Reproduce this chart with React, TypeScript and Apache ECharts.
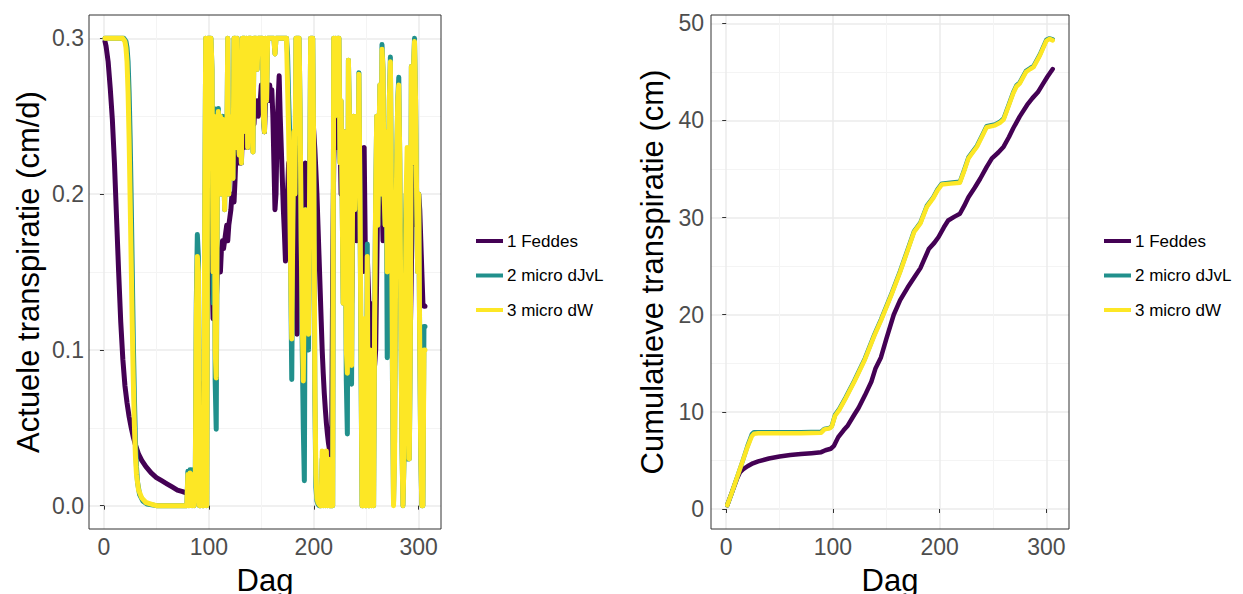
import React, { useEffect, useRef } from "react";
import * as echarts from "echarts";

const FONT = "'Liberation Sans', Arial, Helvetica, sans-serif";

const seriesNames = ["1 Feddes", "2 micro dJvL", "3 micro dW"];
const seriesColors = ["#440154", "#21908C", "#FDE725"];

const xTicks = [0, 100, 200, 300];
const xMinorTicks = [50, 150, 250];
const yTicksLeft = [0, 0.1, 0.2, 0.3];
const yMinorLeft = [0.05, 0.15, 0.25];
const yTicksRight = [0, 10, 20, 30, 40, 50];
const yMinorRight = [5, 15, 25, 35, 45];

// ---- Left panel: actual transpiration (cm/d) ----
// early phase (day, value) pairs
const feddesEarly: [number, number][] = [
  [1, 0.298], [2, 0.295], [4, 0.285], [6, 0.268], [8, 0.248], [10, 0.22], [12, 0.185],
  [14, 0.15], [16, 0.118], [18, 0.094], [20, 0.077], [22, 0.066], [24, 0.057], [26, 0.05],
  [28, 0.044], [30, 0.039], [33, 0.033], [36, 0.029], [40, 0.025], [45, 0.021], [50, 0.018],
  [55, 0.016], [60, 0.014], [65, 0.012], [70, 0.01], [75, 0.009], [79, 0.008],
];
const djvlEarly: [number, number][] = [
  [1, 0.3], [5, 0.3], [10, 0.3], [15, 0.3], [19, 0.3], [21, 0.298], [22, 0.294], [23, 0.285],
  [24, 0.265], [25, 0.235], [26, 0.195], [27, 0.15], [28, 0.105], [29, 0.07], [30, 0.042],
  [31, 0.025], [32, 0.015], [34, 0.007], [37, 0.003], [41, 0.001], [50, 0], [60, 0], [70, 0], [79, 0],
];
const dwEarly: [number, number][] = [
  [1, 0.3], [5, 0.3], [10, 0.3], [15, 0.3], [18, 0.3], [20, 0.298], [21, 0.294], [22, 0.285],
  [23, 0.265], [24, 0.235], [25, 0.195], [26, 0.155], [27, 0.115], [28, 0.08], [29, 0.052],
  [30, 0.032], [31, 0.02], [33, 0.01], [36, 0.005], [40, 0.002], [45, 0.001], [50, 0], [60, 0], [70, 0], [79, 0],
];

// daily values from day 80 to day 306
const dailyStartDay = 80;
const feddesDaily = [
  0.008, 0.008, 0.009, 0.008, 0.008, 0.009, 0.008, 0.008, 0.01, 0.05,
  0.03, 0.01, 0.006, 0.005, 0.04, 0.079, 0.01, 0.12, 0.2, 0.21,
  0.21, 0.2, 0.19, 0.15, 0.12, 0.13, 0.14, 0.13, 0.15, 0.16,
  0.16, 0.15, 0.165, 0.17, 0.165, 0.17, 0.175, 0.18, 0.17, 0.18,
  0.185, 0.19, 0.2, 0.2, 0.195, 0.21, 0.23, 0.22, 0.225, 0.22,
  0.23, 0.22, 0.24, 0.235, 0.23, 0.24, 0.24, 0.23, 0.25, 0.245,
  0.25, 0.24, 0.25, 0.245, 0.26, 0.25, 0.26, 0.25, 0.26, 0.26,
  0.27, 0.26, 0.25, 0.24, 0.26, 0.27, 0.26, 0.265, 0.27, 0.26,
  0.267, 0.25, 0.22, 0.19, 0.2, 0.24, 0.26, 0.276, 0.25, 0.23,
  0.21, 0.19, 0.175, 0.157, 0.17, 0.2, 0.22, 0.18, 0.16, 0.14,
  0.2, 0.23, 0.2, 0.14, 0.11, 0.2, 0.23, 0.22, 0.19, 0.16,
  0.14, 0.19, 0.22, 0.2, 0.17, 0.16, 0.2, 0.24, 0.23, 0.25,
  0.24, 0.229, 0.215, 0.2, 0.18, 0.16, 0.14, 0.12, 0.1, 0.085,
  0.072, 0.062, 0.053, 0.046, 0.04, 0.036, 0.033, 0.03, 0.15, 0.22,
  0.24, 0.25, 0.23, 0.25, 0.254, 0.24, 0.2, 0.22, 0.17, 0.2,
  0.19, 0.15, 0.12, 0.21, 0.2, 0.17, 0.13, 0.17, 0.2, 0.18,
  0.19, 0.17, 0.18, 0.2, 0.19, 0.17, 0.15, 0.2, 0.23, 0.17,
  0.15, 0.16, 0.14, 0.12, 0.13, 0.11, 0.1, 0.095, 0.09, 0.1,
  0.15, 0.2, 0.21, 0.226, 0.22, 0.2, 0.17, 0.19, 0.18, 0.2,
  0.17, 0.19, 0.21, 0.22, 0.2, 0.17, 0.15, 0.13, 0.15, 0.19,
  0.21, 0.2, 0.18, 0.16, 0.14, 0.12, 0.13, 0.15, 0.17, 0.15,
  0.127, 0.12, 0.11, 0.15, 0.2, 0.232, 0.23, 0.2, 0.18, 0.19,
  0.2, 0.19, 0.17, 0.15, 0.13, 0.128, 0.128,
];
const djvlDaily = [
  0.022, 0.0, 0.023, 0.023, 0.0, 0.023, 0.0, 0.01, 0.13, 0.174,
  0.16, 0.0, 0.0, 0.05, 0.0, 0.0, 0.18, 0.3, 0.0, 0.3,
  0.3, 0.3, 0.3, 0.28, 0.13, 0.255, 0.08, 0.049, 0.2, 0.255,
  0.24, 0.25, 0.2, 0.25, 0.23, 0.19, 0.25, 0.22, 0.3, 0.2,
  0.24, 0.225, 0.25, 0.21, 0.3, 0.3, 0.23, 0.3, 0.24, 0.225,
  0.25, 0.22, 0.3, 0.3, 0.3, 0.24, 0.3, 0.23, 0.3, 0.3,
  0.3, 0.26, 0.227, 0.3, 0.3, 0.3, 0.28, 0.3, 0.3, 0.3,
  0.3, 0.3, 0.25, 0.24, 0.3, 0.26, 0.3, 0.3, 0.3, 0.3,
  0.3, 0.3, 0.3, 0.29, 0.3, 0.3, 0.3, 0.3, 0.3, 0.3,
  0.3, 0.3, 0.3, 0.3, 0.3, 0.29, 0.262, 0.24, 0.15, 0.081,
  0.18, 0.24, 0.2, 0.3, 0.3, 0.3, 0.3, 0.25, 0.17, 0.1,
  0.05, 0.016, 0.19, 0.19, 0.12, 0.1, 0.2, 0.3, 0.3, 0.3,
  0.22, 0.07, 0.012, 0.003, 0.001, 0.0, 0.0, 0.0, 0.03, 0.0,
  0.025, 0.0, 0.03, 0.0, 0.025, 0.0, 0.0, 0.0, 0.0, 0.3,
  0.25, 0.3, 0.26, 0.3, 0.3, 0.22, 0.26, 0.2, 0.13, 0.24,
  0.2, 0.08, 0.046, 0.286, 0.25, 0.2, 0.078, 0.2, 0.25, 0.19,
  0.22, 0.25, 0.2, 0.278, 0.2, 0.09, 0.0, 0.0, 0.11, 0.0,
  0.0, 0.168, 0.0, 0.0, 0.09, 0.0, 0.037, 0.0, 0.12, 0.2,
  0.25, 0.18, 0.23, 0.27, 0.2, 0.296, 0.28, 0.2, 0.18, 0.24,
  0.095, 0.2, 0.26, 0.288, 0.2, 0.08, 0.002, 0.042, 0.15, 0.22,
  0.26, 0.275, 0.22, 0.12, 0.04, 0.0, 0.03, 0.17, 0.2, 0.03,
  0.12, 0.03, 0.1, 0.282, 0.22, 0.28, 0.3, 0.26, 0.2, 0.15,
  0.2, 0.1, 0.03, 0.0, 0.0, 0.115, 0.115,
];
const dwDaily = [
  0.02, 0.0, 0.021, 0.02, 0.0, 0.02, 0.0, 0.01, 0.12, 0.16,
  0.15, 0.0, 0.0, 0.05, 0.0, 0.0, 0.18, 0.3, 0.0, 0.3,
  0.3, 0.3, 0.3, 0.28, 0.15, 0.25, 0.1, 0.082, 0.2, 0.253,
  0.24, 0.25, 0.2, 0.248, 0.23, 0.19, 0.245, 0.22, 0.3, 0.2,
  0.24, 0.225, 0.25, 0.21, 0.3, 0.3, 0.23, 0.3, 0.24, 0.225,
  0.25, 0.22, 0.3, 0.3, 0.3, 0.24, 0.3, 0.23, 0.3, 0.3,
  0.3, 0.26, 0.227, 0.3, 0.3, 0.3, 0.28, 0.3, 0.3, 0.3,
  0.3, 0.3, 0.25, 0.24, 0.3, 0.26, 0.3, 0.3, 0.3, 0.3,
  0.3, 0.3, 0.3, 0.29, 0.3, 0.3, 0.3, 0.3, 0.3, 0.3,
  0.3, 0.3, 0.3, 0.3, 0.3, 0.27, 0.24, 0.2, 0.15, 0.107,
  0.18, 0.24, 0.2, 0.3, 0.3, 0.3, 0.3, 0.25, 0.17, 0.12,
  0.08, 0.15, 0.19, 0.16, 0.12, 0.11, 0.2, 0.3, 0.3, 0.3,
  0.22, 0.08, 0.02, 0.005, 0.002, 0.001, 0.0, 0.0, 0.035, 0.0,
  0.03, 0.0, 0.035, 0.0, 0.03, 0.0, 0.0, 0.0, 0.0, 0.3,
  0.25, 0.3, 0.26, 0.3, 0.3, 0.22, 0.26, 0.2, 0.13, 0.24,
  0.2, 0.1, 0.085, 0.286, 0.25, 0.2, 0.09, 0.2, 0.25, 0.19,
  0.22, 0.25, 0.2, 0.277, 0.2, 0.1, 0.0, 0.0, 0.12, 0.0,
  0.0, 0.16, 0.0, 0.0, 0.1, 0.0, 0.03, 0.0, 0.12, 0.2,
  0.25, 0.18, 0.23, 0.27, 0.2, 0.293, 0.28, 0.2, 0.18, 0.24,
  0.15, 0.2, 0.26, 0.285, 0.2, 0.09, 0.0, 0.03, 0.15, 0.22,
  0.26, 0.27, 0.22, 0.12, 0.04, 0.0, 0.03, 0.1, 0.2, 0.23,
  0.12, 0.03, 0.1, 0.282, 0.22, 0.28, 0.298, 0.26, 0.2, 0.15,
  0.2, 0.1, 0.03, 0.0, 0.0, 0.1, 0.1,
];

// ---- Right panel: cumulative transpiration (cm) ----
const feddesCum: [number, number][] = [
  [1, 0.4], [5, 1.6], [10, 3.1], [13, 3.8], [16, 4.1], [20, 4.4], [25, 4.7], [30, 4.9],
  [40, 5.2], [50, 5.4], [60, 5.55], [70, 5.65], [80, 5.75], [89, 5.85], [93, 6.05], [98, 6.2],
  [101, 6.5], [105, 7.4], [110, 8.1], [114, 8.6], [120, 9.7], [124, 10.4], [130, 11.7],
  [136, 13.1], [140, 14.5], [145, 15.6], [150, 17.5], [157, 20.0], [163, 21.5], [170, 22.8],
  [176, 23.8], [182, 24.8], [186, 25.8], [190, 26.8], [195, 27.4], [199, 28.0], [204, 29.0],
  [208, 29.7], [214, 30.1], [219, 30.4], [223, 31.2], [227, 32.1], [233, 33.1], [238, 34.0],
  [244, 35.2], [249, 36.1], [255, 36.7], [260, 37.3], [265, 38.3], [269, 39.2], [275, 40.4],
  [282, 41.6], [287, 42.3], [292, 42.9], [297, 43.8], [301, 44.5], [306, 45.3],
];
const djvlCum: [number, number][] = [
  [1, 0.4], [5, 1.6], [10, 3.2], [15, 4.8], [20, 6.5], [24, 7.7], [26, 7.9], [30, 7.9],
  [50, 7.9], [70, 7.9], [89, 7.95], [92, 8.25], [97, 8.35], [99, 8.55], [102, 9.7], [106, 10.3],
  [112, 11.5], [120, 13.2], [130, 15.5], [139, 18.0], [145, 19.5], [155, 22.2], [163, 24.5],
  [170, 26.7], [176, 28.6], [182, 29.5], [188, 31.2], [194, 32.1], [198, 32.9], [202, 33.5],
  [210, 33.6], [219, 33.7], [223, 34.9], [227, 36.2], [231, 36.8], [235, 37.4], [240, 38.5],
  [244, 39.4], [252, 39.6], [257, 39.9], [260, 40.2], [265, 41.7], [269, 42.9], [272, 43.6],
  [275, 43.9], [281, 45.1], [285, 45.4], [288, 45.6], [294, 46.8], [300, 48.3], [303, 48.45],
  [306, 48.35],
];
const dwCum: [number, number][] = [
  [1, 0.4], [5, 1.6], [10, 3.2], [15, 4.8], [20, 6.4], [24, 7.5], [26, 7.75], [30, 7.8],
  [50, 7.8], [70, 7.8], [89, 7.85], [92, 8.2], [97, 8.3], [99, 8.5], [102, 9.6], [106, 10.2],
  [112, 11.4], [120, 13.1], [130, 15.4], [139, 17.9], [145, 19.4], [155, 22.1], [163, 24.4],
  [170, 26.6], [176, 28.5], [182, 29.4], [188, 31.1], [194, 32.0], [198, 32.8], [202, 33.4],
  [210, 33.5], [219, 33.6], [223, 34.8], [227, 36.1], [231, 36.7], [235, 37.3], [240, 38.4],
  [244, 39.3], [252, 39.5], [257, 39.8], [260, 40.1], [265, 41.6], [269, 42.8], [272, 43.5],
  [275, 43.8], [281, 45.0], [285, 45.3], [288, 45.5], [294, 46.7], [300, 48.2], [303, 48.4],
  [306, 48.25],
];

function joinDaily(early: [number, number][], daily: number[]): [number, number][] {
  return early.concat(daily.map((v, i) => [dailyStartDay + i, v] as [number, number]));
}

const X_MIN = -14.25;
const X_MAX = 321.25;

function mainX(gridIndex: number) {
  return {
    type: "value",
    gridIndex,
    min: X_MIN,
    max: X_MAX,
    axisLine: { show: false },
    axisTick: { show: true, length: 4, customValues: xTicks, lineStyle: { color: "#333333", width: 1 } },
    axisLabel: { customValues: xTicks, fontSize: 23, color: "#4d4d4d", fontFamily: FONT, margin: 6 },
    splitLine: { show: true, lineStyle: { color: "#ebebeb", width: 1.5 } },
    name: "Dag",
    nameLocation: "middle",
    nameGap: 36,
    nameTextStyle: { fontSize: 31, color: "#000000", fontFamily: FONT },
  };
}
function minorX(gridIndex: number) {
  return {
    type: "value",
    gridIndex,
    min: X_MIN,
    max: X_MAX,
    axisLine: { show: false },
    axisTick: { show: false, customValues: xMinorTicks },
    axisLabel: { show: false, customValues: xMinorTicks },
    splitLine: { show: true, lineStyle: { color: "#f4f4f4", width: 1 } },
  };
}
function mainY(gridIndex: number, min: number, max: number, ticks: number[], name: string, gap: number, fmt: (v: number) => string, margin: number) {
  return {
    type: "value",
    gridIndex,
    min,
    max,
    axisLine: { show: false },
    axisTick: { show: true, length: 4, customValues: ticks, lineStyle: { color: "#333333", width: 1 } },
    axisLabel: { customValues: ticks, fontSize: 23, color: "#4d4d4d", fontFamily: FONT, margin, formatter: fmt },
    splitLine: { show: true, lineStyle: { color: "#ebebeb", width: 1.5 } },
    name,
    nameLocation: "middle",
    nameGap: gap,
    nameRotate: 90,
    nameTextStyle: { fontSize: 31, color: "#000000", fontFamily: FONT },
  };
}
function minorY(gridIndex: number, min: number, max: number, ticks: number[]) {
  return {
    type: "value",
    gridIndex,
    min,
    max,
    axisLine: { show: false },
    axisTick: { show: false, customValues: ticks },
    axisLabel: { show: false, customValues: ticks },
    splitLine: { show: true, lineStyle: { color: "#f4f4f4", width: 1 } },
  };
}

function lineSeries(i: number, data: [number, number][], xIdx: number, yIdx: number, width: number) {
  return {
    type: "line",
    name: seriesNames[i],
    data,
    xAxisIndex: xIdx,
    yAxisIndex: yIdx,
    symbol: "none",
    showSymbol: false,
    z: 3 + i,
    lineStyle: { color: seriesColors[i], width, cap: "round", join: "round" },
    itemStyle: { color: seriesColors[i] },
  };
}

function legendAt(left: number) {
  return {
    orient: "vertical",
    left,
    top: 227.5,
    itemWidth: 27,
    itemHeight: 4,
    itemGap: 17.5,
    icon: "rect",
    data: seriesNames,
    textStyle: { fontSize: 17, color: "#000000", fontFamily: FONT, padding: [0, 0, 0, -1] },
    selectedMode: false,
  };
}

export default function App() {
  const ref = useRef<HTMLDivElement>(null);
  useEffect(() => {
    if (!ref.current) return;
    const chart = echarts.init(ref.current, null, { renderer: "svg" });
    const gridBase = {
      top: 15,
      height: 514,
      show: true,
      borderColor: "#333333",
      borderWidth: 1,
      backgroundColor: "transparent",
      containLabel: false,
      outerBoundsMode: "none",
      z: 10,
    };
    const option = {
      animation: false,
      backgroundColor: "#ffffff",
      textStyle: { fontFamily: FONT },
      grid: [
        { ...gridBase, left: 89, width: 352 },
        { ...gridBase, left: 711, width: 358 },
      ],
      xAxis: [mainX(0), minorX(0), mainX(1), minorX(1)],
      yAxis: [
        mainY(0, -0.015, 0.315, yTicksLeft, "Actuele transpiratie (cm/d)", 45, (v: number) => v.toFixed(1), 5),
        minorY(0, -0.015, 0.315, yMinorLeft),
        mainY(1, -2.06, 50.86, yTicksRight, "Cumulatieve transpiratie (cm)", 43, (v: number) => String(Math.round(v)), 7),
        minorY(1, -2.06, 50.86, yMinorRight),
      ],
      legend: [legendAt(471), legendAt(1099)],
      series: [
        lineSeries(0, joinDaily(feddesEarly, feddesDaily), 0, 0, 5),
        lineSeries(1, joinDaily(djvlEarly, djvlDaily), 0, 0, 5),
        lineSeries(2, joinDaily(dwEarly, dwDaily), 0, 0, 5),
        lineSeries(0, feddesCum, 2, 2, 4.5),
        lineSeries(1, djvlCum, 2, 2, 4.5),
        lineSeries(2, dwCum, 2, 2, 4.5),
      ],
    };
    chart.setOption(option as any);
    return () => chart.dispose();
  }, []);
  return (
    <div
      ref={ref}
      style={{ position: "absolute", left: 0, top: 0, width: 1243, height: 594, background: "#ffffff" }}
    />
  );
}
